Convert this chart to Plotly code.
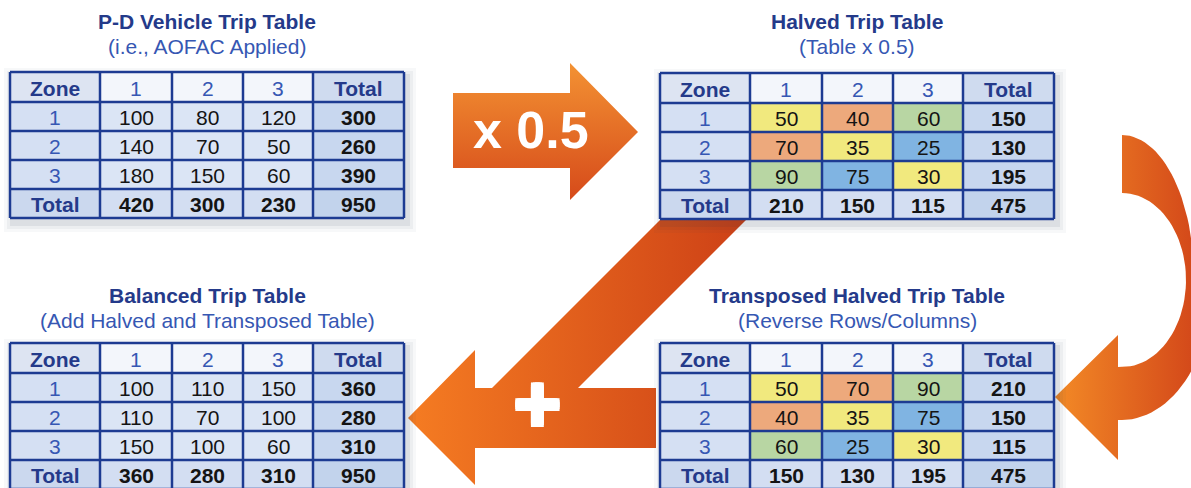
import numpy as np
import plotly.graph_objects as go

# ---------------- data ----------------
header_labels = ["Zone", "1", "2", "3", "Total"]
row_labels = ["1", "2", "3", "Total"]

pd_values = [[100, 80, 120], [140, 70, 50], [180, 150, 60]]
pd_row_totals = [300, 260, 390]
pd_col_totals = [420, 300, 230]
pd_grand_total = 950

halved_values = [[50, 40, 60], [70, 35, 25], [90, 75, 30]]
halved_row_totals = [150, 130, 195]
halved_col_totals = [210, 150, 115]
halved_grand_total = 475

transposed_values = [[50, 70, 90], [40, 35, 75], [60, 25, 30]]
transposed_row_totals = [210, 150, 115]
transposed_col_totals = [150, 130, 195]
transposed_grand_total = 475

balanced_values = [[100, 110, 150], [110, 70, 100], [150, 100, 60]]
balanced_row_totals = [360, 280, 310]
balanced_col_totals = [360, 280, 310]
balanced_grand_total = 950

halved_highlight = [["Y", "O", "G"], ["O", "Y", "B"], ["G", "B", "Y"]]
transposed_highlight = [["Y", "O", "G"], ["O", "Y", "B"], ["G", "B", "Y"]]

titles = ["P-D Vehicle Trip Table", "Halved Trip Table",
          "Balanced Trip Table", "Transposed Halved Trip Table"]
subtitles = ["(i.e., AOFAC Applied)", "(Table x 0.5)",
             "(Add Halved and Transposed Table)", "(Reverse Rows/Columns)"]
multiply_label = "x 0.5"
plus_label = "+"

# ---------------- styles ----------------
FONT = "Liberation Sans, Arial, sans-serif"
BORDER = "#1d3b92"
NAVY = "#243a8a"
MIDBLUE = "#3657b3"
HL = {"Y": "#f1e97e", "O": "#eda97c", "G": "#b8d6a3", "B": "#80b4e2"}

col_w = [90, 72, 71, 70, 91]
row_h = [30, 29, 29, 29, 29]

fig = go.Figure()
shapes = []
annotations = []


def add_text(x, y, text, size, color, bold=False):
    annotations.append(dict(
        x=x, y=y, xref="x", yref="y", text=text, showarrow=False,
        xanchor="center", yanchor="middle",
        font=dict(family=FONT, size=size, color=color,
                  weight="bold" if bold else "normal")))


def draw_table(x0, y0, values, row_tot, col_tot, grand, title, subtitle,
               highlight=None, title_dy=(51, 26)):
    xs = list(np.cumsum([x0] + col_w))
    ys = list(np.cumsum([y0] + row_h))
    # shadow
    for pad, op in [(9, 0.035), (6, 0.05), (3, 0.08)]:
        shapes.append(dict(type="rect", xref="x", yref="y",
                           x0=xs[0] - pad + 3, x1=xs[-1] + pad + 3,
                           y0=ys[0] - pad + 5, y1=ys[-1] + pad + 5,
                           fillcolor=f"rgba(40,50,80,{op})", line_width=0,
                           layer="above"))
    for r in range(5):
        for c in range(5):
            if r == 0:
                fill = ["#dde4f2", "#f3f6fb", "#f3f6fb", "#f3f6fb", "#cfdbef"][c]
            elif r == 4:
                fill = ["#cbd8ee", "#d3def2", "#d3def2", "#d3def2", "#c2d3ec"][c]
            else:
                fill = ["#d5e0f3", "#dbe5f5", "#dbe5f5", "#dbe5f5", "#c8d7ef"][c]
                if highlight is not None and 1 <= c <= 3:
                    fill = HL[highlight[r - 1][c - 1]]
            shapes.append(dict(type="rect", xref="x", yref="y",
                               x0=xs[c], x1=xs[c + 1], y0=ys[r], y1=ys[r + 1],
                               fillcolor=fill, line_width=0, layer="above"))
    for x in xs:
        shapes.append(dict(type="line", xref="x", yref="y", x0=x, x1=x,
                           y0=ys[0], y1=ys[-1],
                           line=dict(color=BORDER, width=2.5), layer="above"))
    for y in ys:
        shapes.append(dict(type="line", xref="x", yref="y", x0=xs[0], x1=xs[-1],
                           y0=y, y1=y,
                           line=dict(color=BORDER, width=2.5), layer="above"))
    cx = [(xs[i] + xs[i + 1]) / 2 for i in range(5)]
    cy = [(ys[i] + ys[i + 1]) / 2 + 1 for i in range(5)]
    # header
    for c, lab in enumerate(header_labels):
        bold = lab in ("Zone", "Total")
        add_text(cx[c], cy[0], lab, 21, NAVY if bold else MIDBLUE, bold)
    # rows
    for r in range(4):
        lab = row_labels[r]
        bold = lab == "Total"
        add_text(cx[0], cy[r + 1], lab, 21, NAVY if bold else MIDBLUE, bold)
        if r < 3:
            for c in range(3):
                add_text(cx[c + 1], cy[r + 1], str(values[r][c]), 21, "#141414")
            add_text(cx[4], cy[r + 1], str(row_tot[r]), 21, "#141414", True)
        else:
            for c in range(3):
                add_text(cx[c + 1], cy[r + 1], str(col_tot[c]), 21, "#141414", True)
            add_text(cx[4], cy[r + 1], str(grand), 21, "#141414", True)
    tx = (xs[0] + xs[-1]) / 2
    add_text(tx, y0 - title_dy[0], title, 21, NAVY, True)
    add_text(tx, y0 - title_dy[1], subtitle, 21, MIDBLUE)


# ---------------- arrows (background) ----------------
def arrow_trace(px, py, gtype, c0, c1):
    return go.Scatter(x=px, y=py, mode="lines", fill="toself",
                      line=dict(width=0, color=c1),
                      fillgradient=dict(type=gtype,
                                        colorscale=[[0, c0], [1, c1]]),
                      hoverinfo="skip", showlegend=False)


# x 0.5 arrow (light orange at top, deeper red-orange at bottom)
ax = [453, 570, 570, 638, 570, 570, 453, 453]
ay = [93, 93, 63, 132, 200, 168, 168, 93]
fig.add_trace(arrow_trace(ax, ay, "vertical", "#d64a1a", "#f39233"))

# diagonal "+" arrow
dx = [408, 475, 475, 492, 670, 756, 578, 656, 656, 475, 475, 408]
dy = [418, 350, 388, 388, 210, 210, 388, 388, 448, 448, 485, 418]
fig.add_trace(arrow_trace(dx, dy, "horizontal", "#f57c22", "#cc3f16"))

# curved arrow on the right
cxc, cyo, ryo = 1122, 277.5, 142.5
t_top = np.linspace(-np.pi / 2, 0, 30)
t_bot = np.linspace(0, np.pi / 2, 30)[1:]
outer_x = list(cxc + 72 * np.cos(t_top)) + list(cxc + 92 * np.cos(t_bot))
outer_y = list(cyo + ryo * np.sin(t_top)) + list(cyo + ryo * np.sin(t_bot))
t_in = np.linspace(np.pi / 2, -np.pi / 2, 50)
inner_x = list(cxc + 64 * np.cos(t_in))
inner_y = list(280 + 87 * np.sin(t_in))
curve_x = outer_x + [1118, 1118, 1055, 1118, 1118] + inner_x + [outer_x[0]]
curve_y = outer_y + [420, 460, 397, 335, 367] + inner_y + [outer_y[0]]
fig.add_trace(arrow_trace(curve_x, curve_y, "horizontal", "#f38a26", "#cf3f18"))

# ---------------- tables ----------------
draw_table(10, 72, pd_values, pd_row_totals, pd_col_totals, pd_grand_total,
           titles[0], subtitles[0])
draw_table(660, 73, halved_values, halved_row_totals, halved_col_totals,
           halved_grand_total, titles[1], subtitles[1], halved_highlight,
           title_dy=(52, 27))
draw_table(10, 343, balanced_values, balanced_row_totals, balanced_col_totals,
           balanced_grand_total, titles[2], subtitles[2], title_dy=(48, 23))
draw_table(660, 343, transposed_values, transposed_row_totals,
           transposed_col_totals, transposed_grand_total, titles[3], subtitles[3],
           transposed_highlight, title_dy=(48, 23))

# arrow labels
annotations.append(dict(x=531, y=130, xref="x", yref="y", text=multiply_label,
                        showarrow=False,
                        font=dict(family=FONT, size=52, color="white", weight="bold")))
sh = ", ".join(f"{a}px {b}px 0 white" for a, b in
               [(2, 0), (-2, 0), (0, 2), (0, -2), (2, 2), (-2, -2), (2, -2), (-2, 2)])
annotations.append(dict(x=537, y=403, xref="x", yref="y", text=plus_label,
                        showarrow=False,
                        font=dict(family=FONT, size=80, color="white", weight="bold",
                                  shadow=sh)))

fig.update_layout(
    width=1191, height=488, margin=dict(l=0, r=0, t=0, b=0),
    paper_bgcolor="white", plot_bgcolor="white",
    xaxis=dict(range=[0, 1191], visible=False, fixedrange=True),
    yaxis=dict(range=[488, 0], visible=False, fixedrange=True),
    shapes=shapes, annotations=annotations, showlegend=False,
)

fig.write_html("out.html", config={"displayModeBar": False},
               post_script="document.body.style.margin='0';")
